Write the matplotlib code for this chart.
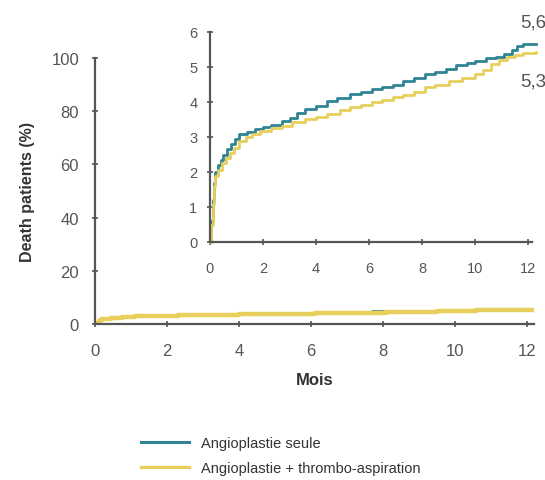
import matplotlib.pyplot as plt
from matplotlib.lines import Line2D

# police type Arial
plt.rcParams['font.family'] = ['Liberation Sans', 'DejaVu Sans']

t_seule = [0, 0.05, 0.1, 0.15, 0.2, 0.3, 0.4, 0.5, 0.65, 0.8, 0.95, 1.1, 1.4, 1.7,
           2.0, 2.3, 2.7, 3.0, 3.3, 3.6, 4.0, 4.4, 4.8, 5.3, 5.7, 6.1, 6.5, 6.9,
           7.3, 7.7, 8.1, 8.5, 8.9, 9.3, 9.7, 10.0, 10.4, 10.8, 11.1, 11.4, 11.6,
           11.8, 12.3]
v_seule = [0, 0.6, 1.2, 1.7, 2.0, 2.2, 2.35, 2.5, 2.65, 2.8, 2.95, 3.08, 3.15, 3.22,
           3.28, 3.35, 3.45, 3.55, 3.7, 3.8, 3.9, 4.02, 4.12, 4.23, 4.3, 4.38, 4.42,
           4.5, 4.6, 4.7, 4.8, 4.85, 4.95, 5.05, 5.12, 5.18, 5.25, 5.3, 5.38, 5.5,
           5.6, 5.65, 5.65]

t_thrombo = [0, 0.05, 0.1, 0.15, 0.2, 0.3, 0.45, 0.6, 0.75, 0.9, 1.1, 1.35, 1.6, 1.9,
             2.3, 2.7, 3.1, 3.6, 4.0, 4.4, 4.9, 5.3, 5.7, 6.1, 6.5, 6.9, 7.3, 7.7,
             8.1, 8.5, 9.0, 9.5, 10.0, 10.3, 10.6, 10.9, 11.2, 11.5, 11.8, 12.3]
v_thrombo = [0, 0.5, 1.1, 1.6, 1.9, 2.05, 2.25, 2.4, 2.55, 2.7, 2.88, 3.0, 3.08, 3.17,
             3.25, 3.32, 3.42, 3.51, 3.58, 3.66, 3.76, 3.85, 3.92, 3.99, 4.06, 4.13,
             4.2, 4.3, 4.42, 4.5, 4.61, 4.7, 4.8, 4.92, 5.08, 5.2, 5.28, 5.34, 5.4,
             5.42]

mois_ticks = [0, 2, 4, 6, 8, 10, 12]
main_yticks = [0, 20, 40, 60, 80, 100]
inset_yticks = [0, 1, 2, 3, 4, 5, 6]
labels = ['Angioplastie seule', 'Angioplastie + thrombo-aspiration']
final_labels = ['5,6', '5,3']

BLUE = '#2f8495'
YELLOW = '#e8cf5c'
AXIS = '#555555'
TXT = '#555555'


def style_axes(ax, size):
    for s in ['top', 'right']:
        ax.spines[s].set_visible(False)
    for s in ['left', 'bottom']:
        ax.spines[s].set_color(AXIS)
        ax.spines[s].set_linewidth(1.6)
    ax.tick_params(direction='inout', length=5, width=1.2, color=AXIS,
                   labelcolor=TXT, labelsize=size)


fig = plt.figure(figsize=(5.45, 4.81), dpi=100)

# graphique principal
ax = fig.add_axes([95 / 545, 1 - 325 / 481, 439 / 545, 266 / 481])
ax.step(t_seule, v_seule, where='post', color=BLUE, lw=2)
ax.step(t_thrombo, v_thrombo, where='post', color=YELLOW, lw=3.2)
ax.set_xlim(0, 12.2)
ax.set_ylim(0, 100)
ax.set_xticks(mois_ticks)
ax.set_yticks(main_yticks)
style_axes(ax, 12)
ax.tick_params(axis='x', pad=11)
ax.tick_params(axis='y', pad=9)
ax.set_xlabel('Mois', fontsize=12, fontweight='bold', color='#333333', labelpad=10)
ax.set_ylabel('Death patients (%)', fontsize=11.5, fontweight='bold',
              color='#333333', labelpad=12)

# encart zoom 0-6 %
axi = fig.add_axes([210 / 545, 1 - 243 / 481, 322 / 545, 210 / 481])
axi.step(t_seule, v_seule, where='post', color=BLUE, lw=2, clip_on=False)
axi.step(t_thrombo, v_thrombo, where='post', color=YELLOW, lw=2, clip_on=False)
axi.set_xlim(0, 12.15)
axi.set_ylim(0, 6)
axi.set_xticks(mois_ticks)
axi.set_yticks(inset_yticks)
style_axes(axi, 10.5)
axi.tick_params(length=4)
axi.tick_params(axis='x', pad=12)
axi.tick_params(axis='y', pad=7)

fig.text(520 / 545, 1 - 23 / 481, final_labels[0], fontsize=13.5, color=TXT,
         va='center', ha='left')
fig.text(520 / 545, 1 - 82 / 481, final_labels[1], fontsize=13.5, color=TXT,
         va='center', ha='left')

# légende
handles = [Line2D([], [], color=BLUE, lw=2.2), Line2D([], [], color=YELLOW, lw=2.4)]
fig.legend(handles, labels, loc='upper left', bbox_to_anchor=(128 / 545, 1 - 424 / 481),
           frameon=False, fontsize=10.5, handlelength=3.3, labelspacing=0.75,
           labelcolor='#333333')

fig.savefig('out.png', dpi=100)
